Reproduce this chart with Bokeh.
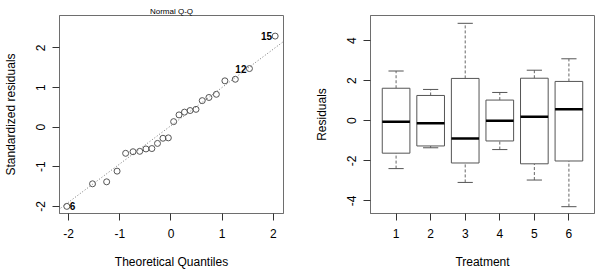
import numpy as np
from bokeh.plotting import figure
from bokeh.layouts import row
from bokeh.models import Range1d, FixedTicker, Slope, ColumnDataSource
from bokeh.core.properties import value
from bokeh.embed import file_html
from bokeh.resources import INLINE

# ---- Normal Q-Q of standardized residuals ----
theoretical = [-2.037, -1.534, -1.258, -1.054, -0.887, -0.742, -0.611, -0.489,
               -0.374, -0.264, -0.157, -0.052, 0.052, 0.157, 0.264, 0.374,
               0.489, 0.611, 0.742, 0.887, 1.054, 1.258, 1.534, 2.037]
std_resid = [-2.00, -1.43, -1.38, -1.11, -0.66, -0.62, -0.61, -0.55,
             -0.54, -0.41, -0.28, -0.27, 0.14, 0.31, 0.38, 0.42,
             0.45, 0.67, 0.75, 0.83, 1.17, 1.21, 1.48, 2.30]
obs_labels = ["6", "", "", "", "", "", "", "", "", "", "", "",
              "", "", "", "", "", "", "", "", "", "", "12", "15"]
qq_ticks = [-2, -1, 0, 1, 2]
qq_tick_labels = ["-2", "-1", "0", "1", "2"]

# ---- Residuals by treatment (boxplot statistics) ----
treatment = [1, 2, 3, 4, 5, 6]
treatment_labels = ["1", "2", "3", "4", "5", "6"]
whisker_lo = [-2.39, -1.35, -3.08, -1.44, -2.96, -4.29]
q1 = [-1.62, -1.26, -2.11, -1.01, -2.15, -2.01]
median = [-0.05, -0.13, -0.89, 0.00, 0.20, 0.57]
q3 = [1.62, 1.26, 2.11, 1.03, 2.12, 1.96]
whisker_hi = [2.48, 1.56, 4.86, 1.41, 2.52, 3.09]
res_ticks = [-4, -2, 0, 2, 4]
res_tick_labels = ["-4", "-2", "0", "2", "4"]

FONT = "Liberation Sans"
FRAME = "#6e6e6e"
INK = "#555555"
TEXT = "#000000"


def style_axes(p, xticks, xlabels, yticks, ylabels, xtitle, ytitle):
    p.xgrid.visible = False
    p.ygrid.visible = False
    p.outline_line_color = FRAME
    p.outline_line_width = 1
    for ax in (p.xaxis[0], p.yaxis[0]):
        ax.axis_line_color = FRAME
        ax.major_tick_line_color = "#333333"
        ax.major_tick_in = 0
        ax.major_tick_out = 7
        ax.minor_tick_line_color = None
        ax.major_label_text_font = FONT
        ax.major_label_text_font_size = "12px"
        ax.major_label_text_color = TEXT
        ax.axis_label_text_font = FONT
        ax.axis_label_text_font_size = "12px"
        ax.axis_label_text_font_style = "normal"
        ax.axis_label_text_color = TEXT
    p.xaxis[0].ticker = FixedTicker(ticks=xticks)
    p.xaxis[0].major_label_overrides = dict(zip(xticks, xlabels))
    p.yaxis[0].ticker = FixedTicker(ticks=yticks)
    p.yaxis[0].major_label_overrides = dict(zip(yticks, ylabels))
    p.yaxis[0].major_label_orientation = "vertical"
    p.xaxis[0].axis_label = xtitle
    p.yaxis[0].axis_label = ytitle
    p.xaxis[0].major_label_standoff = 8
    p.xaxis[0].axis_label_standoff = 14
    p.yaxis[0].major_label_standoff = 7
    p.yaxis[0].axis_label_standoff = 16


# Left panel: Q-Q plot
p1 = figure(width=300, height=272, output_backend="svg", toolbar_location=None,
            x_range=Range1d(-2.18, 2.2), y_range=Range1d(-2.18, 2.82),
            min_border_left=59, min_border_right=17, min_border_top=15,
            min_border_bottom=59)
p1.title.text = "Normal Q-Q"
p1.title.align = "center"
p1.title.text_font = FONT
p1.title.text_font_size = "8px"
p1.title.text_font_style = "normal"
p1.title.text_color = TEXT
p1.title.standoff = 0
p1.title.offset = 0
style_axes(p1, qq_ticks, qq_tick_labels, qq_ticks, qq_tick_labels,
           "Theoretical Quantiles", "Standardized residuals")

# reference line through the quartiles
q_lo, q_hi = np.percentile(std_resid, [25, 75])
z75 = 0.6744898
slope = (q_hi - q_lo) / (2 * z75)
intercept = q_lo + slope * z75
p1.add_layout(Slope(gradient=slope, y_intercept=intercept, line_color="#777777",
                    line_width=1, line_dash="1 2"))

qq_src = ColumnDataSource(dict(x=theoretical, y=std_resid, lab=obs_labels))
p1.scatter("x", "y", source=qq_src, marker="circle", size=6,
           fill_color=None, line_color="#555555", line_width=1)

# observation labels: left of the point on the right half, right of it otherwise
left_idx = [i for i, t in enumerate(obs_labels) if t and theoretical[i] > 0]
right_idx = [i for i, t in enumerate(obs_labels) if t and theoretical[i] <= 0]
p1.text(x=[theoretical[i] for i in left_idx], y=[std_resid[i] for i in left_idx],
        text=[obs_labels[i] for i in left_idx], x_offset=-3,
        text_align="right", text_baseline="middle", text_font=value(FONT),
        text_font_size="10px", text_font_style="bold", text_color=TEXT)
p1.text(x=[theoretical[i] for i in right_idx], y=[std_resid[i] for i in right_idx],
        text=[obs_labels[i] for i in right_idx], x_offset=3,
        text_align="left", text_baseline="middle", text_font=value(FONT),
        text_font_size="10px", text_font_style="bold", text_color=TEXT)

# Right panel: residuals by treatment
p2 = figure(width=300, height=272, output_backend="svg", toolbar_location=None,
            x_range=Range1d(0.26, 6.74), y_range=Range1d(-4.63, 5.25),
            min_border_left=70, min_border_right=6, min_border_top=15,
            min_border_bottom=59)
style_axes(p2, treatment, treatment_labels, res_ticks, res_tick_labels,
           "Treatment", "Residuals")

box_w = 0.8
cap_w = 0.44
bx = ColumnDataSource(dict(x=treatment, lo=whisker_lo, q1=q1, med=median,
                           q3=q3, hi=whisker_hi,
                           cl=[t - cap_w / 2 for t in treatment],
                           cr=[t + cap_w / 2 for t in treatment],
                           ml=[t - box_w / 2 for t in treatment],
                           mr=[t + box_w / 2 for t in treatment]))
# whiskers
p2.segment(x0="x", y0="q3", x1="x", y1="hi", source=bx, line_color="#666666",
           line_width=1, line_dash="3 2")
p2.segment(x0="x", y0="lo", x1="x", y1="q1", source=bx, line_color="#666666",
           line_width=1, line_dash="3 2")
# staples
p2.segment(x0="cl", y0="hi", x1="cr", y1="hi", source=bx, line_color=INK, line_width=1)
p2.segment(x0="cl", y0="lo", x1="cr", y1="lo", source=bx, line_color=INK, line_width=1)
# boxes
p2.vbar(x="x", width=box_w, bottom="q1", top="q3", source=bx,
        fill_color="white", line_color=INK, line_width=1)
# medians
p2.segment(x0="ml", y0="med", x1="mr", y1="med", source=bx, line_color="black",
           line_width=2.5)

layout = row(p1, p2)
open("out.html", "w").write(file_html(layout, INLINE))
